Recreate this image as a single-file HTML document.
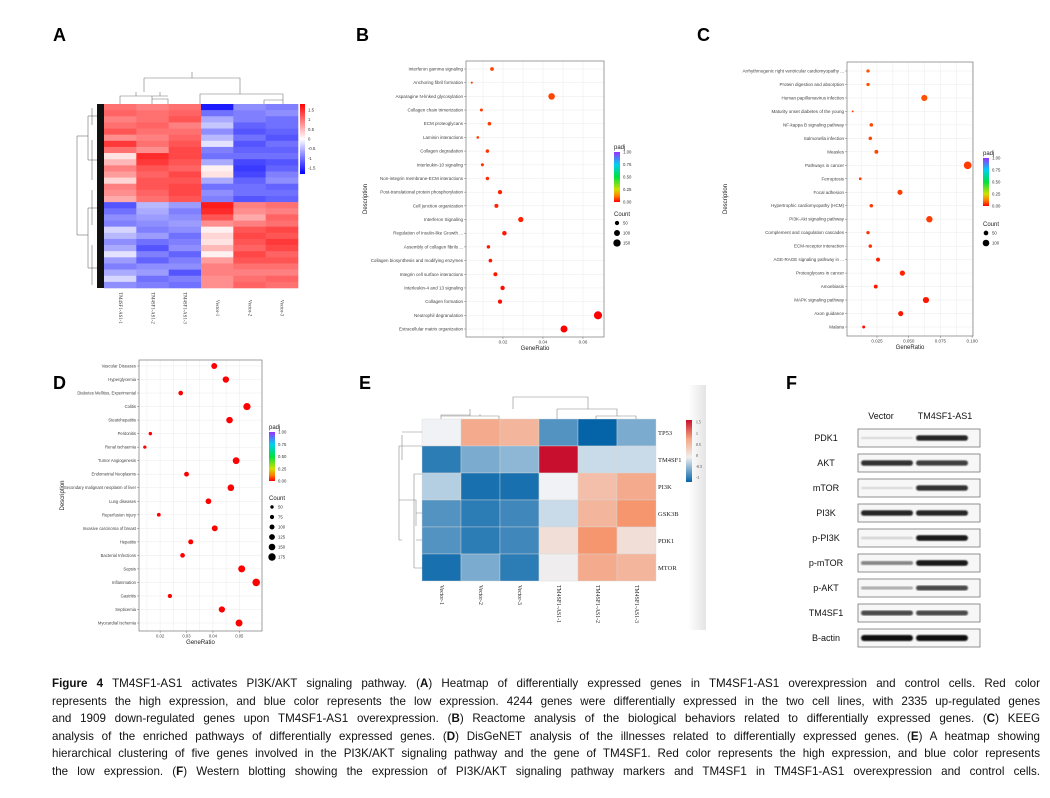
<!DOCTYPE html>
<html><head><meta charset="utf-8">
<style>
html,body{margin:0;padding:0;background:#fff;}
body{width:1050px;height:798px;position:relative;overflow:hidden;font-family:"Liberation Sans",sans-serif;}
#fig{position:absolute;left:0;top:0;}
#caption{position:absolute;left:52px;top:675px;width:988px;font-family:"Liberation Sans",sans-serif;font-size:11.6px;color:#111;}
#caption div{height:17.6px;line-height:17.6px;text-align:justify;text-align-last:justify;white-space:normal;overflow:hidden;}
</style></head>
<body>
<svg id="fig" width="1050" height="670" viewBox="0 0 1050 670" xmlns="http://www.w3.org/2000/svg">
<defs>
<linearGradient id="padjGrad" x1="0" y1="1" x2="0" y2="0">
<stop offset="0" stop-color="#ff0000"/><stop offset="0.12" stop-color="#ff8000"/><stop offset="0.25" stop-color="#d0e000"/>
<stop offset="0.5" stop-color="#00e040"/><stop offset="0.75" stop-color="#00d0f0"/><stop offset="1" stop-color="#9a30ff"/>
</linearGradient>
<linearGradient id="aGrad" x1="0" y1="1" x2="0" y2="0">
<stop offset="0" stop-color="#0000ff"/><stop offset="0.5" stop-color="#ffffff"/><stop offset="1" stop-color="#ff0000"/>
</linearGradient>
<linearGradient id="eGrad" x1="0" y1="1" x2="0" y2="0">
<stop offset="0" stop-color="#0565a8"/><stop offset="0.4" stop-color="#f0f0f0"/><stop offset="0.7" stop-color="#f4a582"/><stop offset="1" stop-color="#c8102e"/>
</linearGradient>
<linearGradient id="edgeGrad" x1="0" y1="0" x2="1" y2="0">
<stop offset="0" stop-color="#ffffff"/><stop offset="1" stop-color="#e4e4e4"/>
</linearGradient>
<filter id="blur1"><feGaussianBlur stdDeviation="0.9"/></filter>
</defs>
<g id="root"></g>
</svg>
<div id="caption">
<div><b>Figure 4</b> TM4SF1-AS1 activates PI3K/AKT signaling pathway. (<b>A</b>) Heatmap of differentially expressed genes in TM4SF1-AS1 overexpression and control cells. Red color</div>
<div>represents the high expression, and blue color represents the low expression. 4244 genes were differentially expressed in the two cell lines, with 2335 up-regulated genes</div>
<div>and 1909 down-regulated genes upon TM4SF1-AS1 overexpression. (<b>B</b>) Reactome analysis of the biological behaviors related to differentially expressed genes. (<b>C</b>) KEEG</div>
<div>analysis of the enriched pathways of differentially expressed genes. (<b>D</b>) DisGeNET analysis of the illnesses related to differentially expressed genes. (<b>E</b>) A heatmap showing</div>
<div>hierarchical clustering of five genes involved in the PI3K/AKT signaling pathway and the gene of TM4SF1. Red color represents the high expression, and blue color represents</div>
<div>the low expression. (<b>F</b>) Western blotting showing the expression of PI3K/AKT signaling pathway markers and TM4SF1 in TM4SF1-AS1 overexpression and control cells.</div>
</div>
<script>
// ---------- Panel A data ----------
const aCols = ["TM4SF1-AS1-1","TM4SF1-AS1-2","TM4SF1-AS1-3","Vector-1","Vector-2","Vector-3"];
const aTM1 = [1.0,1.1,0.9,1.0,1.2,0.8,1.4,1.0,0.2,0.5,0.9,0.7,0.3,0.9,0.8,0.6,-1.2,-1.0,-0.8,-0.9,-0.3,-0.5,-0.8,-0.6,-0.2,-0.7,-0.9,-0.6,-0.3,-0.8];
const aTM2 = [0.9,1.0,1.0,1.1,1.0,0.9,1.0,0.8,1.5,1.4,1.2,1.1,1.2,1.2,1.1,1.0,-0.5,-0.6,-0.7,-0.8,-0.9,-0.7,-1.0,-1.2,-0.9,-1.1,-0.8,-0.7,-1.0,-0.9];
const aTM3 = [1.0,1.1,1.2,0.9,1.0,1.1,1.2,1.3,1.3,1.2,1.1,1.3,1.2,1.3,1.3,1.2,-0.7,-0.9,-0.8,-0.7,-0.8,-1.0,-0.9,-0.8,-1.1,-0.9,-0.8,-1.2,-0.9,-1.0];
const aV1 = [-1.6,-1.0,-0.6,-0.4,-0.8,-0.5,-0.2,-0.9,-1.0,-0.6,0.1,0.2,-0.6,-1.0,-0.8,-0.9,1.6,1.5,1.2,0.8,0.1,0.3,0.2,0.5,0.1,0.7,0.9,0.9,0.8,0.8];
const aV2 = [-0.8,-0.9,-0.9,-1.1,-1.2,-1.0,-1.2,-1.1,-1.0,-1.3,-1.4,-1.3,-1.1,-1.0,-1.0,-1.2,0.9,0.8,0.6,0.9,1.2,1.3,1.2,1.1,1.3,1.2,1.0,0.9,1.0,1.1];
const aV3 = [-0.9,-0.8,-1.0,-1.0,-1.1,-1.2,-1.0,-1.1,-1.0,-1.2,-1.1,-0.9,-0.8,-1.1,-1.0,-1.1,1.0,0.9,1.1,1.0,1.3,1.2,1.4,1.3,1.1,1.2,1.0,0.9,1.1,1.0];
const aTicks = [1.5,1,0.5,0,-0.5,-1,-1.5];

// ---------- Panel B data ----------
const bLabels = ["Interferon gamma signaling","Anchoring fibril formation","Asparagine N-linked glycosylation","Collagen chain trimerization","ECM proteoglycans","Laminin interactions","Collagen degradation","Interleukin-10 signaling","Non-integrin membrane-ECM interactions","Post-translational protein phosphorylation","Cell junction organization","Interferon Signaling","Regulation of Insulin-like Growth ...","Assembly of collagen fibrils ...","Collagen biosynthesis and modifying enzymes","Integrin cell surface interactions","Interleukin-4 and 13 signaling","Collagen formation","Neutrophil degranulation","Extracellular matrix organization"];
const bRatio = [0.0145,0.0044,0.0443,0.0092,0.0132,0.0074,0.0122,0.0097,0.0122,0.0185,0.0167,0.0289,0.0207,0.0127,0.0137,0.0162,0.0198,0.0185,0.0675,0.0505];
const bCount = [39,12,120,25,36,20,33,26,33,50,45,78,56,34,37,44,53,50,182,136];
const bPadj = [0.06,0.05,0.06,0.05,0.05,0.05,0.04,0.04,0.04,0.03,0.03,0.03,0.02,0.02,0.02,0.02,0.01,0.01,0.0,0.0];
const bTicks = [0.02,0.04,0.06];

// ---------- Panel C data ----------
const cLabels = ["Arrhythmogenic right ventricular cardiomyopathy ...","Protein digestion and absorption","Human papillomavirus infection","Maturity onset diabetes of the young","NF-kappa B signaling pathway","Salmonella infection","Measles","Pathways in cancer","Ferroptosis","Focal adhesion","Hypertrophic cardiomyopathy (HCM)","PI3K-Akt signaling pathway","Complement and coagulation cascades","ECM-receptor interaction","AGE-RAGE signaling pathway in ...","Proteoglycans in cancer","Amoebiasis","MAPK signaling pathway","Axon guidance","Malaria"];
const cRatio = [0.0179,0.0179,0.0623,0.0058,0.0205,0.0197,0.0245,0.0965,0.0118,0.0431,0.0205,0.0663,0.0179,0.0197,0.0258,0.045,0.024,0.0636,0.0437,0.0145];
const cCount = [25,25,87,8,29,28,34,135,17,60,29,93,25,28,36,63,34,89,61,20];
const cPadj = [0.07,0.07,0.07,0.06,0.06,0.06,0.06,0.05,0.05,0.05,0.05,0.05,0.04,0.04,0.03,0.03,0.02,0.02,0.02,0.01];
const cTicks = [0.025,0.05,0.075,0.1];
const cTickLabels = ["0.025","0.050","0.075","0.100"];

// ---------- Panel D data ----------
const dLabels = ["Vascular Diseases","Hyperglycemia","Diabetes Mellitus, Experimental","Colitis","Steatohepatitis","Peritonitis","Renal ischaemia","Tumor Angiogenesis","Endometrial Neoplasms","Secondary malignant neoplasm of liver","Lung diseases","Reperfusion Injury","Invasive carcinoma of breast","Hepatitis","Bacterial Infections","Sepsis","Inflammation","Gastritis","Septicemia","Myocardial Ischemia"];
const dRatio = [0.0405,0.0449,0.0278,0.0529,0.0463,0.0163,0.0142,0.0488,0.030,0.0468,0.0383,0.0195,0.0407,0.0316,0.0285,0.0509,0.0564,0.0237,0.0434,0.0499];
const dCount = [130,144,89,169,148,52,45,156,96,150,123,62,130,101,91,163,180,76,139,160];
const dPadj = [0,0,0,0,0,0,0,0,0,0,0,0,0,0,0,0,0,0,0,0];
const dTicks = [0.02,0.03,0.04,0.05];

// ---------- Panel E data ----------
const eRows = ["TP53","TM4SF1","PI3K","GSK3B","PDK1","MTOR"];
const eCols = ["Vector-1","Vector-2","Vector-3","TM4SF1-AS1-1","TM4SF1-AS1-2","TM4SF1-AS1-3"];
const eTP53 = [0.0,0.7,0.6,-0.8,-1.2,-0.6];
const eTM4SF1 = [-1.0,-0.6,-0.5,1.6,-0.2,-0.2];
const ePI3K = [-0.3,-1.1,-1.1,0.0,0.5,0.7];
const eGSK3B = [-0.8,-1.0,-0.9,-0.2,0.6,0.9];
const ePDK1 = [-0.8,-1.0,-0.9,0.2,0.9,0.2];
const eMTOR = [-1.1,-0.6,-1.0,0.05,0.7,0.6];
const eTicks = [1.5,1,0.5,0,-0.5,-1];

// ---------- Panel F data ----------
const fProteins = ["PDK1","AKT","mTOR","PI3K","p-PI3K","p-mTOR","p-AKT","TM4SF1","B-actin"];
const fVector = [0.12,0.85,0.12,0.9,0.15,0.5,0.3,0.75,1.0];
const fTM = [0.9,0.8,0.85,0.9,0.95,0.95,0.75,0.75,1.0];

const NS = "http://www.w3.org/2000/svg";
const root = document.getElementById("root");
function mk(tag, attrs, parent){
  const e = document.createElementNS(NS, tag);
  for (const k in attrs) e.setAttribute(k, attrs[k]);
  (parent||root).appendChild(e);
  return e;
}
function txt(x,y,s,size,parent,extra){
  const t = mk("text",Object.assign({x:x,y:y,"font-size":size,"font-family":"Liberation Sans, sans-serif",fill:"#333"},extra||{}),parent);
  t.textContent = s;
  return t;
}

// panel letters
const letters = [["A",53,41],["B",356,41],["C",697,41],["D",53,389],["E",359,389],["F",786,389]];
letters.forEach(l=>{
  const t = txt(l[1],l[2],l[0],18,root,{"font-weight":"bold",fill:"#000"});
  
  
});

// ---------- Panel A ----------
(function(){
  const g = mk("g",{});
  
  
  const cols = [aTM1,aTM2,aTM3,aV1,aV2,aV3];
  const x0=104,x1=298,y0=104,y1=288;
  const cw=(x1-x0)/cols.length, rh=(y1-y0)/aTM1.length;
  function col(v){
    const f=Math.max(-1,Math.min(1,v/1.8));
    if(f>=0){const c=Math.round(255*(1-f));return `rgb(255,${c},${c})`;}
    const c=Math.round(255*(1+f));return `rgb(${c},${c},255)`;
  }
  cols.forEach((arr,ci)=>{
    arr.forEach((v,ri)=>{
      const r = mk("rect",{x:x0+ci*cw,y:y0+ri*rh,width:cw+0.3,height:rh+0.3,fill:col(v)},g);
      
      
    });
    const lx=x0+ci*cw+cw/2;
    const t = txt(lx,308,aCols[ci],4.8,g,{"text-anchor":"middle","dominant-baseline":"middle",transform:`rotate(90 ${lx} 308)`,"font-family":"Liberation Serif, serif"});
    
    
  });
  // row dendrogram (dense)
  const dg = mk("g",{stroke:"#555","stroke-width":0.5,fill:"none"},g);
  
  
  mk("rect",{x:97,y:y0,width:7,height:y1-y0,fill:"#111",stroke:"none"},dg);
  mk("path",{d:"M77,136 L77,235 M77,136 L88,136 M77,235 L88,235 M88,116 L88,160 M88,208 L88,268 M88,116 L97,116 M88,160 L97,160 M88,208 L97,208 M88,268 L97,268 M92,108 L92,125 M92,140 L92,180 M92,190 L92,225 M92,245 L92,285"},dg);
  // column dendrogram
  const cg = mk("path",{d:"M120,104 L120,96 L152,96 L152,104 M136,96 L136,92 M152,96 L168,96 M168,104 L168,99 L152,99 M160,96 L160,92 M144,92 L144,78 M144,78 L240,78 L240,92 M200,104 L200,94 L283,94 L283,104 M264,104 L264,100 L283,100 M240,92 L240,94 M192,78 L192,72",stroke:"#777","stroke-width":0.6,fill:"none"},g);
  
  
  // colorbar
  const cb = mk("rect",{x:300,y:104,width:5,height:70,fill:"url(#aGrad)"},g);
  
  
  aTicks.forEach(v=>{
    const y = 139 - v/1.8*35;
    const t = txt(308,y+1.5,String(v),4.3,g);
    
    
  });
})();

// ---------- dot plots ----------
function padjColor(p){ return `hsl(${Math.round(p*270)},100%,50%)`; }
function dotplot(cfg){
  const g = mk("g",{});
  
  
  const {bx0,bx1,by0,by1,dom,rowTop,rowBot} = cfg;
  const xs = v => bx0 + (v-dom[0])/(dom[1]-dom[0])*(bx1-bx0);
  const n = cfg.labels.length;
  const ys = i => rowTop + i*(rowBot-rowTop)/(n-1);
  mk("rect",{x:bx0,y:by0,width:bx1-bx0,height:by1-by0,fill:"#fff"},g);
  // grid
  const gg = mk("g",{stroke:"#ebebeb","stroke-width":0.5},g);
  for(let i=0;i<n;i++) mk("line",{x1:bx0,x2:bx1,y1:ys(i),y2:ys(i)},gg);
  const minor = cfg.ticks.slice();
  cfg.ticks.forEach((t,i)=>{ if(i<cfg.ticks.length-1) minor.push((t+cfg.ticks[i+1])/2); });
  minor.push(cfg.ticks[0]-(cfg.ticks[1]-cfg.ticks[0])/2);
  minor.forEach(t=>{ const x=xs(t); if(x>bx0&&x<bx1) mk("line",{x1:x,x2:x,y1:by0,y2:by1},gg); });
  mk("rect",{x:bx0,y:by0,width:bx1-bx0,height:by1-by0,fill:"none",stroke:"#777","stroke-width":0.7},g);
  cfg.labels.forEach((s,i)=>{
    const t = txt(bx0-3,ys(i)+1.5,s,cfg.fs,g,{"text-anchor":"end",fill:"#444"});
    
    
    mk("line",{x1:bx0-2,x2:bx0,y1:ys(i),y2:ys(i),stroke:"#555","stroke-width":0.4},g);
  });
  cfg.ticks.forEach((v,i)=>{
    const x = xs(v);
    mk("line",{x1:x,x2:x,y1:by1,y2:by1+2,stroke:"#555","stroke-width":0.4},g);
    const t = txt(x,by1+6.5,cfg.tickLabels?cfg.tickLabels[i]:String(v),cfg.fs,g,{"text-anchor":"middle",fill:"#444"});
    
    
  });
  const xt = txt((bx0+bx1)/2,by1+13,"GeneRatio",6,g,{"text-anchor":"middle",fill:"#222"});
  
  
  const yt = txt(cfg.descX,(by0+by1)/2,"Description",6,g,{"text-anchor":"middle",fill:"#222",transform:`rotate(-90 ${cfg.descX} ${(by0+by1)/2})`});
  
  
  cfg.values.forEach((v,i)=>{
    const c = mk("circle",{cx:xs(v),cy:ys(i),r:cfg.rad(cfg.counts[i]),fill:padjColor(cfg.padj[i])},g);
    
    
  });
  // legend
  const L = cfg.leg;
  const lt = txt(L.x,L.y-3,"padj",6,g,{fill:"#222"});
  
  
  const cb = mk("rect",{x:L.x,y:L.y,width:6,height:L.h,fill:"url(#padjGrad)"},g);
  
  
  ["1.00","0.75","0.50","0.25","0.00"].forEach((s,i)=>{
    const t = txt(L.x+9,L.y+i*L.h/4+1.5,s,4.3,g,{fill:"#333"});
    
    
  });
  const ct = txt(L.x,L.cy,"Count",6,g,{fill:"#222"});
  
  
  L.counts.forEach((cv,i)=>{
    const y = L.cy+7+i*L.step;
    const c = mk("circle",{cx:L.x+3,cy:y,r:cfg.rad(cv),fill:"#000"},g);
    
    
    const t = txt(L.x+9,y+1.5,String(cv),4.3,g,{fill:"#333"});
    
    
  });
}
dotplot({name:"panel-b-reactome-dotplot",labels:bLabels,values:bRatio,counts:bCount,padj:bPadj,ticks:bTicks,
  bx0:466,bx1:604,by0:61,by1:337,dom:[0.0015,0.0705],rowTop:69,rowBot:329,fs:4.5,descX:367,
  rad:c=>Math.sqrt(c)*0.3,leg:{x:614,y:152,h:50,cy:216,step:10,counts:[50,100,150]}});
dotplot({name:"panel-c-kegg-dotplot",labels:cLabels,values:cRatio,counts:cCount,padj:cPadj,ticks:cTicks,tickLabels:cTickLabels,
  bx0:847,bx1:973,by0:62,by1:336,dom:[0.00134,0.1007],rowTop:71,rowBot:327,fs:4.5,descX:727,
  rad:c=>Math.sqrt(c)*0.33,leg:{x:983,y:158,h:48,cy:226,step:10,counts:[50,100]}});
dotplot({name:"panel-d-disgenet-dotplot",labels:dLabels,values:dRatio,counts:dCount,padj:dPadj,ticks:dTicks,
  bx0:139,bx1:262,by0:360,by1:631,dom:[0.012,0.0586],rowTop:366,rowBot:623,fs:4.2,descX:64,
  rad:c=>1.7+(c-50)/125*2,leg:{x:269,y:432,h:49,cy:500,step:10,counts:[50,75,100,125,150,175]}});

// ---------- Panel E ----------
(function(){
  const g = mk("g",{});
  
  
  mk("rect",{x:688,y:385,width:18,height:245,fill:"url(#edgeGrad)"},g);
  const rows=[eTP53,eTM4SF1,ePI3K,eGSK3B,ePDK1,eMTOR];
  const x0=422,x1=656,y0=419,y1=581;
  const cw=(x1-x0)/6, rh=(y1-y0)/6;
  function lerp(a,b,t){return a.map((v,i)=>Math.round(v+(b[i]-v)*t));}
  function col(v){
    const w=[240,242,245], b=[5,100,168], o=[245,150,110], r=[200,16,46];
    let c;
    if(v<0) c=lerp(w,b,Math.min(1,-v/1.2));
    else if(v<0.9) c=lerp(w,o,v/0.9);
    else c=lerp(o,r,Math.min(1,(v-0.9)/0.7));
    return `rgb(${c[0]},${c[1]},${c[2]})`;
  }
  rows.forEach((arr,ri)=>{
    arr.forEach((v,ci)=>{
      const r = mk("rect",{x:x0+ci*cw,y:y0+ri*rh,width:cw,height:rh,fill:col(v),stroke:"#d8d8d8","stroke-width":0.4},g);
      
      
    });
    const t = txt(658,y0+ri*rh+rh/2+2.5,eRows[ri],6.5,g,{"font-family":"Liberation Serif, serif",fill:"#222"});
    
    
  });
  eCols.forEach((s,ci)=>{
    const lx=x0+ci*cw+cw/2;
    const t = txt(lx,585,s,5.8,g,{"font-family":"Liberation Serif, serif",fill:"#222",transform:`rotate(90 ${lx} 585)`,"dominant-baseline":"middle"});
    
    
  });
  const dd = mk("path",{d:"M441,419 L441,416 L499,416 L499,419 M480,416 L480,414 M470,416 L470,415 M441,416 L441,415 L470,415 M470,415 L470,409 M596,419 L596,416 L636,416 L636,419 M557,419 L557,409 L617,409 L617,416 M513,409 L513,397 L588,397 L588,409 M470,409 L470,416 M402,446 L399,446 L399,540 L402,540 M402,435 L402,460 M399,500 L414,500 M414,474 L414,568 M414,474 L422,474 M414,500 L416,500 L416,526 M416,513 L422,513 M416,540 L422,540 M414,568 L422,568 M402,432 L422,432 M402,446 L422,446",stroke:"#888","stroke-width":0.6,fill:"none"},g);
  
  
  const cb = mk("rect",{x:686,y:420,width:6,height:62,fill:"url(#eGrad)"},g);
  
  
  eTicks.forEach(v=>{
    const y = 482 - (v+1.2)/2.8*62 + (v===1.5?0:0);
    const t = txt(696,y+1.5,String(v),3.8,g,{fill:"#333","font-family":"Liberation Serif, serif"});
    
    
  });
})();

// ---------- Panel F ----------
(function(){
  const g = mk("g",{});
  
  
  const h1 = txt(881,419,"Vector",9,g,{"text-anchor":"middle",fill:"#111"});
  
  
  const h2 = txt(945,419,"TM4SF1-AS1",9,g,{"text-anchor":"middle",fill:"#111"});
  
  
  fProteins.forEach((p,i)=>{
    const y = 429 + i*25;
    const t = txt(826,y+12,p,9,g,{"text-anchor":"middle",fill:"#111"});
    
    
    const box = mk("rect",{x:858,y:y,width:122,height:18,fill:"#f7f7f7",stroke:"#777","stroke-width":0.8},g);
    
    
    [[887,fVector[i]],[942,fTM[i]]].forEach(([cx,v])=>{
      const bh = 2 + v*4;
      const b = mk("rect",{x:cx-26,y:y+9-bh/2,width:52,height:bh,rx:bh/2,fill:"#111","fill-opacity":Math.max(0.08,v),filter:"url(#blur1)"},g);
      
      
    });
  });
})();
</script>
</body></html>
